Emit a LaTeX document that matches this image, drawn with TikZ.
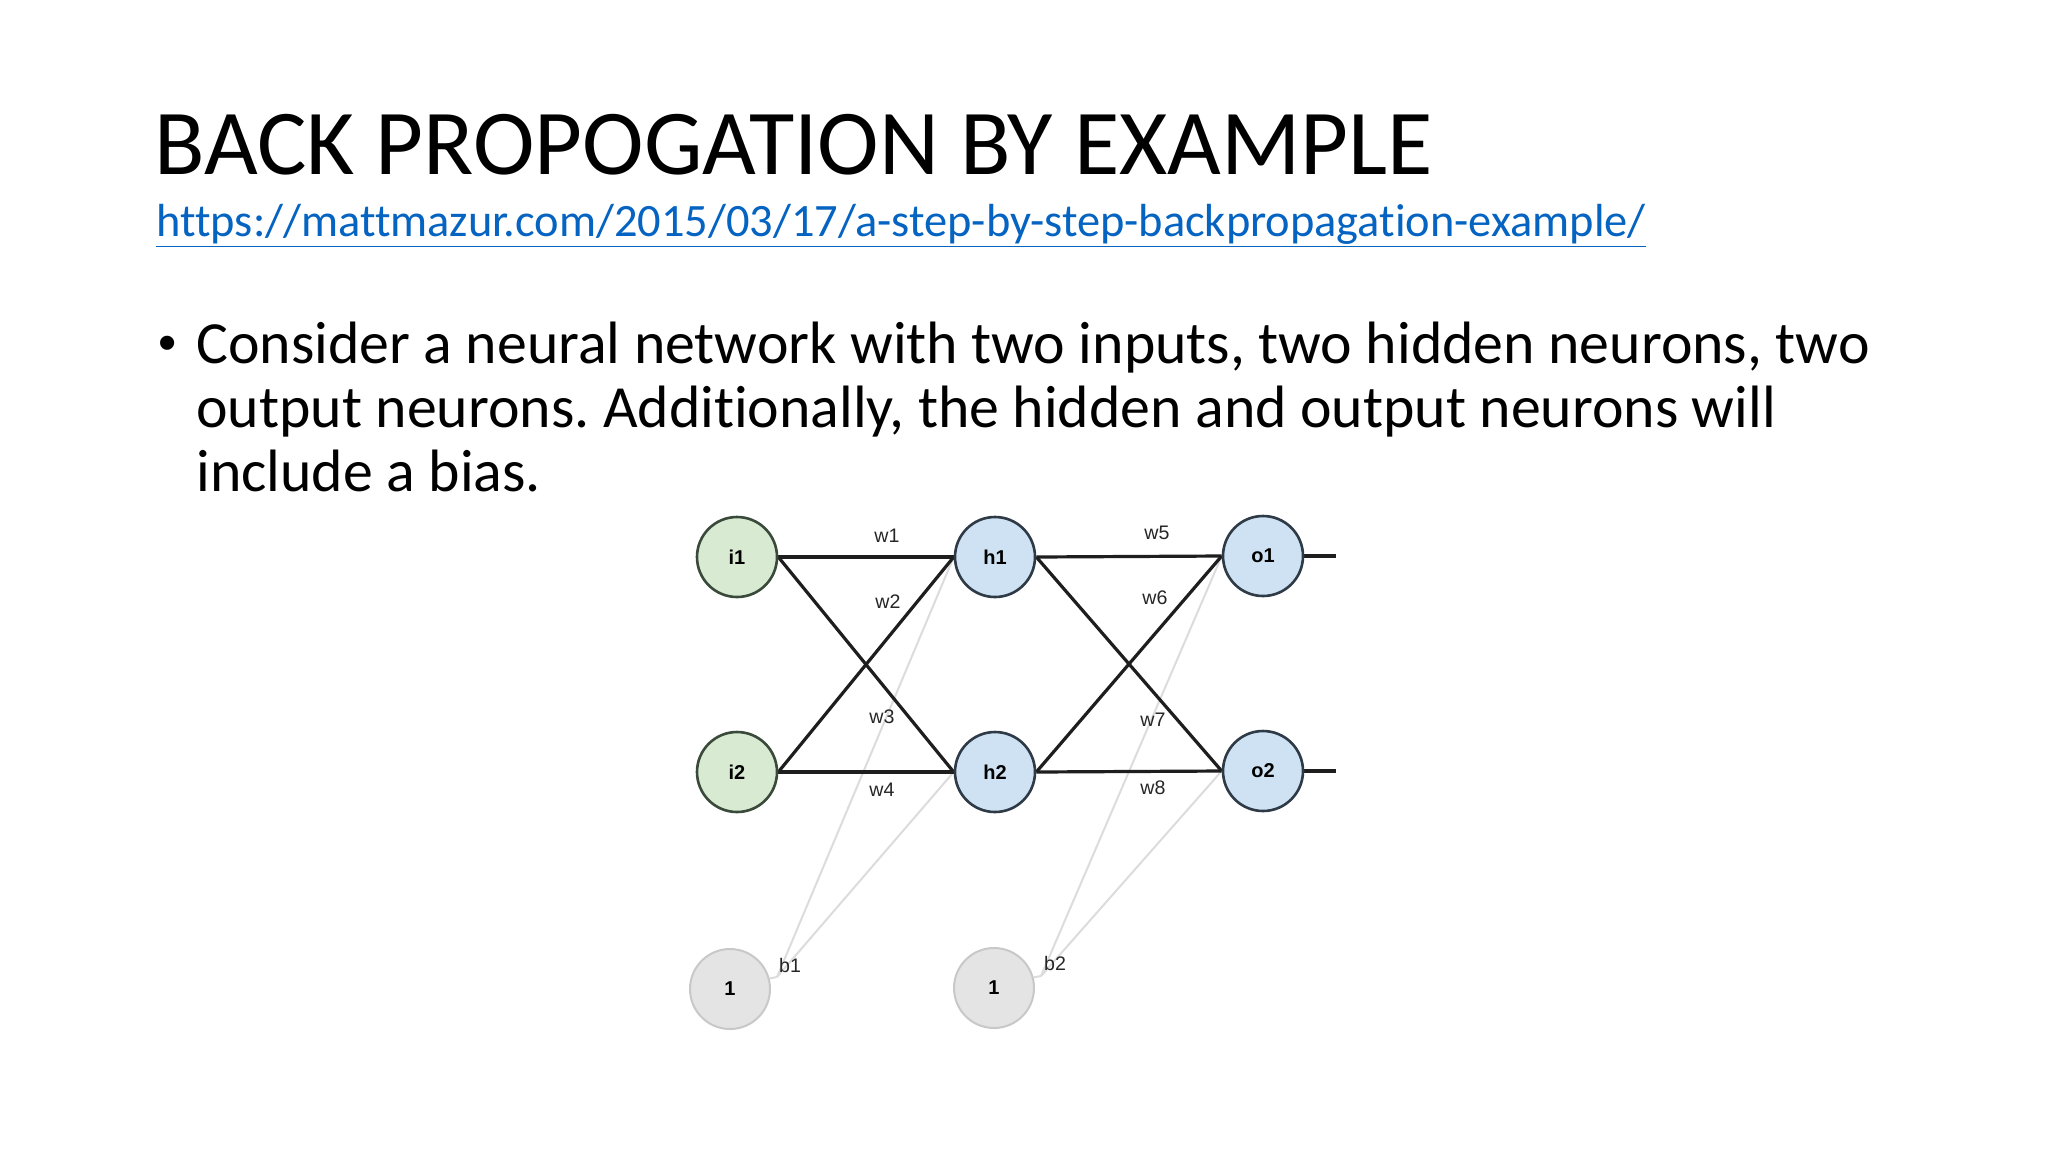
\documentclass[tikz,border=0pt]{standalone}
\usepackage{fontspec}
\usetikzlibrary{backgrounds}
\setmainfont{Carlito}[Ligatures={NoCommon}]
\newfontfamily\arialfont{Liberation Sans}
\frenchspacing
\definecolor{inputfill}{HTML}{D9EAD3}
\definecolor{inputdraw}{HTML}{3A4A3A}
\definecolor{bluefill}{HTML}{CFE2F3}
\definecolor{bluedraw}{HTML}{2E3A46}
\definecolor{biasfill}{HTML}{E4E4E4}
\definecolor{biasdraw}{HTML}{C8C8C8}
\definecolor{biasline}{HTML}{DCDCDC}
\definecolor{linkblue}{HTML}{0563C1}
\definecolor{edgecol}{HTML}{1E1E1E}
\begin{document}
\begin{tikzpicture}[x=0.5pt,y=-0.5pt,
  neuron/.style={circle, minimum size=40pt, inner sep=0pt, line width=1.3pt,
    font=\arialfont\fontsize{10}{11}\selectfont\bfseries},
  inneuron/.style={neuron, fill=inputfill, draw=inputdraw},
  bneuron/.style={neuron, fill=bluefill, draw=bluedraw},
  biasneuron/.style={neuron, fill=biasfill, draw=biasdraw, line width=1pt},
  edge/.style={draw=edgecol, line width=1.6pt},
  biasedge/.style={draw=biasline, line width=1pt},
  wlabel/.style={font=\arialfont\fontsize{9.8}{10}\selectfont, inner sep=0pt, text=black!85},
  bodytext/.style={anchor=base west, inner sep=0pt, font=\fontsize{29.9}{36}\selectfont}
]
\useasboundingbox (0,0) rectangle (2048,1152);

% title and link
\node[anchor=base west, inner sep=0pt, font=\fontsize{46.4}{56}\selectfont] (title) at (154,174) {BACK PROPOGATION BY EXAMPLE};
\node[anchor=base west, inner sep=0pt, text=linkblue, font=\fontsize{23.2}{30}\selectfont] (link) at (156,236) {\underline{https://mattmazur.com/2015/03/17/a-step-by-step-backpropagation-example/}};

% bullet text
\node[bodytext, font=\arialfont\fontsize{26}{30}\selectfont] (bullet) at (158,360) {•};
\node[bodytext] (line1) at (196,363) {Consider a neural network with two inputs, two hidden neurons, two};
\node[bodytext] (line2) at (196,427) {output neurons. Additionally, the hidden and output neurons will};
\node[bodytext] (line3) at (196,491) {include a bias.};

% neurons
\node[inneuron] (i1) at (737,557) {i1};
\node[inneuron] (i2) at (737,772) {i2};
\node[bneuron] (h1) at (995,557) {h1};
\node[bneuron] (h2) at (995,772) {h2};
\node[bneuron] (o1) at (1263,556) {o1};
\node[bneuron] (o2) at (1263,771) {o2};
\node[biasneuron] (b1) at (730,989) {1};
\node[biasneuron] (b2) at (994,988) {1};
\coordinate (out1) at (1336,556);
\coordinate (out2) at (1336,771);
\coordinate (b1c) at (777,977);
\coordinate (b2c) at (1041,976);

\begin{scope}[on background layer]
\fill[white] (0,0) rectangle (2048,1152);
\draw[biasedge] (b1c) -- (h1.west);
\draw[biasedge] (b1c) -- (h2.west);
\draw[biasedge] (b2c) -- (o1.west);
\draw[biasedge] (b2c) -- (o2.west);
\draw[biasedge] (b1c) -- (b1.15);
\draw[biasedge] (b2c) -- (b2.15);
\draw[edge] (i1.east) -- (h1.west);
\draw[edge] (i1.east) -- (h2.west);
\draw[edge] (i2.east) -- (h1.west);
\draw[edge] (i2.east) -- (h2.west);
\draw[edge] (h1.east) -- (o1.west);
\draw[edge] (h1.east) -- (o2.west);
\draw[edge] (h2.east) -- (o1.west);
\draw[edge] (h2.east) -- (o2.west);
\draw[edge] (o1.east) -- (out1);
\draw[edge] (o2.east) -- (out2);
\end{scope}

% weight labels
\node[wlabel] (lw1) at (887,536) {w1};
\node[wlabel] (lw2) at (888,602) {w2};
\node[wlabel] (lw3) at (882,717) {w3};
\node[wlabel] (lw4) at (882,790) {w4};
\node[wlabel] (lw5) at (1157,533) {w5};
\node[wlabel] (lw6) at (1155,598) {w6};
\node[wlabel] (lw7) at (1153,720) {w7};
\node[wlabel] (lw8) at (1153,788) {w8};
\node[wlabel] (lb1) at (790,965) {b1};
\node[wlabel] (lb2) at (1055,963) {b2};
\end{tikzpicture}
\end{document}
